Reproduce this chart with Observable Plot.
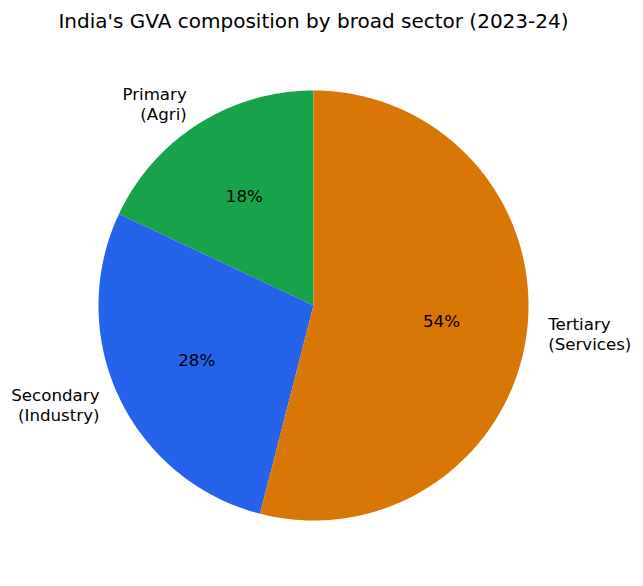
<!DOCTYPE html>
<html>
<head>
<meta charset="utf-8">
<script src="https://cdn.jsdelivr.net/npm/d3@7"></script>
<script src="https://cdn.jsdelivr.net/npm/@observablehq/plot@0.6"></script>
<style>
  body { margin: 0; background: #fff; }
  #title { width: 627px; height: 40px; line-height: 42px; text-align: center;
           font-family: "DejaVu Sans", sans-serif; font-size: 20px; color: #000; }
</style>
</head>
<body>
<div id="title">India's GVA composition by broad sector (2023-24)</div>
<div id="chart"></div>
<script>
const sectors = ["Primary\n(Agri)", "Secondary\n(Industry)", "Tertiary\n(Services)"];
const shares = [18, 28, 54];
const colors = ["#18a34a", "#2563eb", "#d97706"];

const total = d3.sum(shares);
const slicePoints = [];
const labels = [];
let cum = 0;
sectors.forEach((s, i) => {
  const a0 = Math.PI / 2 + (cum / total) * 2 * Math.PI;
  cum += shares[i];
  const a1 = Math.PI / 2 + (cum / total) * 2 * Math.PI;
  slicePoints.push({sector: s, x: 0, y: 0});
  const n = 200;
  for (let k = 0; k <= n; k++) {
    const a = a0 + (a1 - a0) * k / n;
    slicePoints.push({sector: s, x: Math.cos(a), y: Math.sin(a)});
  }
  const am = (a0 + a1) / 2;
  labels.push({
    sector: s,
    pct: Math.round(shares[i] / total * 100) + "%",
    lx: 1.1 * Math.cos(am), ly: 1.1 * Math.sin(am),
    px: 0.6 * Math.cos(am), py: 0.6 * Math.sin(am)
  });
});

const W = 643, H = 546, cx = 313, cy = 265, R = 215;
const chart = Plot.plot({
  width: W, height: H,
  margin: 0,
  x: {domain: [-cx / R, (W - cx) / R], axis: null},
  y: {domain: [-(H - cy) / R, cy / R], axis: null},
  color: {domain: sectors, range: colors},
  style: {fontFamily: "DejaVu Sans, sans-serif", background: "#fff"},
  marks: [
    Plot.line(slicePoints, {x: "x", y: "y", z: "sector", fill: "sector", stroke: null, curve: "linear-closed"}),
    Plot.text(labels, {x: "px", y: "py", text: "pct", fontSize: 16.67, fill: "#000"}),
    Plot.text(labels.filter(d => d.lx < 0), {x: "lx", y: "ly", text: "sector", textAnchor: "end", lineAnchor: "middle", lineHeight: 1.2, dy: -2, fontSize: 16.67, fill: "#000"}),
    Plot.text(labels.filter(d => d.lx >= 0), {x: "lx", y: "ly", text: "sector", textAnchor: "start", lineAnchor: "middle", lineHeight: 1.2, dy: -2, fontSize: 16.67, fill: "#000"})
  ]
});
document.getElementById("chart").appendChild(chart);
</script>
</body>
</html>
